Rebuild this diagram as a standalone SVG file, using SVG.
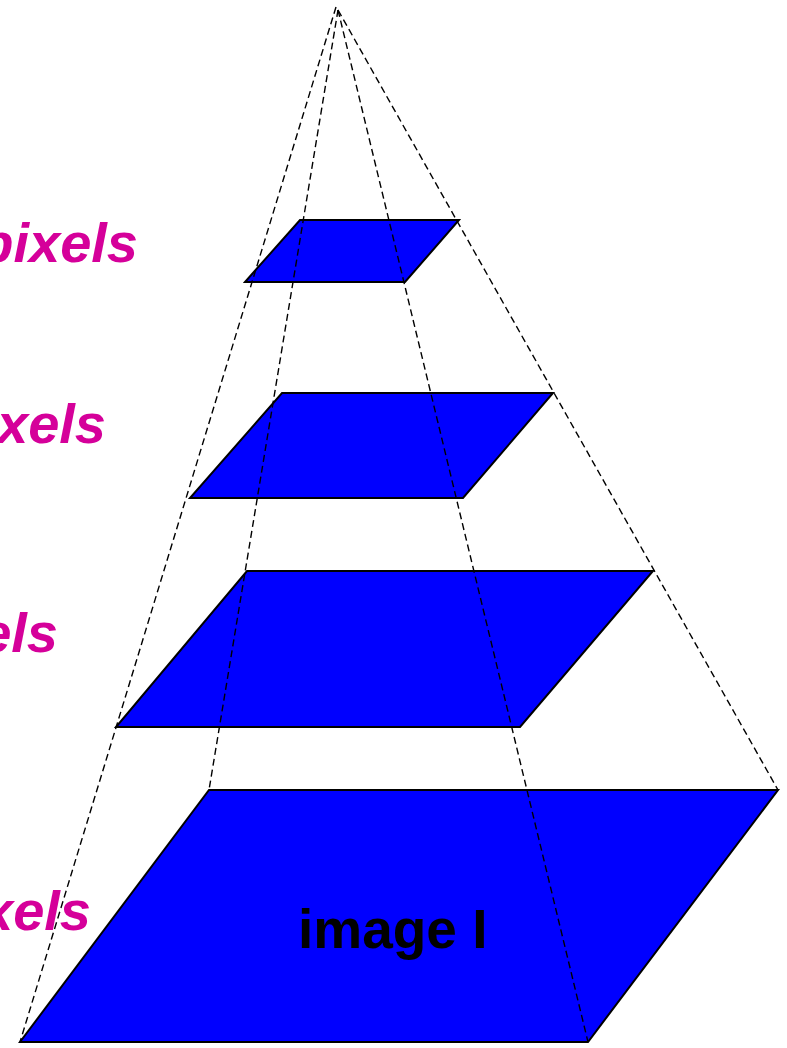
<svg xmlns="http://www.w3.org/2000/svg" width="787" height="1048" viewBox="0 0 787 1048">
<style>
.plane{fill:#0000ff;stroke:#000;stroke-width:2;stroke-linejoin:miter}
.dash{fill:none;stroke:#000;stroke-width:1.4;stroke-dasharray:7 4}
.lbl{font-family:"Liberation Sans",Arial,sans-serif;font-weight:bold;font-style:italic;font-size:56px;fill:#d5009a;text-anchor:end}
.img{font-family:"Liberation Sans",Arial,sans-serif;font-weight:bold;font-size:55px;fill:#000}
</style>
<rect width="787" height="1048" fill="#fff"/>
<g id="labels">
<text class="lbl" x="138" y="262">pixels</text>
<text class="lbl" x="106" y="443">xels</text>
<text class="lbl" x="58" y="652">els</text>
<text class="lbl" x="91" y="930">xels</text>
</g>
<g id="level0">
<polygon class="plane" points="209,790 778,790 588,1042 20,1042"/>
<text class="img" x="298" y="948">image I</text>
</g>
<g id="level1">
<polygon class="plane" points="247,571 653,571 520,727 116,727"/>
</g>
<g id="level2">
<polygon class="plane" points="282,393 553,393 463,498 190,498"/>
</g>
<g id="level3">
<polygon class="plane" points="300,220 459,220 405,282 245,282"/>
</g>
<g id="connectors">
<line class="dash" x1="336" y1="7" x2="20" y2="1042"/>
<line class="dash" x1="338" y1="10" x2="209" y2="790"/>
<line class="dash" x1="338" y1="10" x2="588" y2="1042"/>
<line class="dash" x1="338" y1="10" x2="778" y2="790"/>
</g>
</svg>
